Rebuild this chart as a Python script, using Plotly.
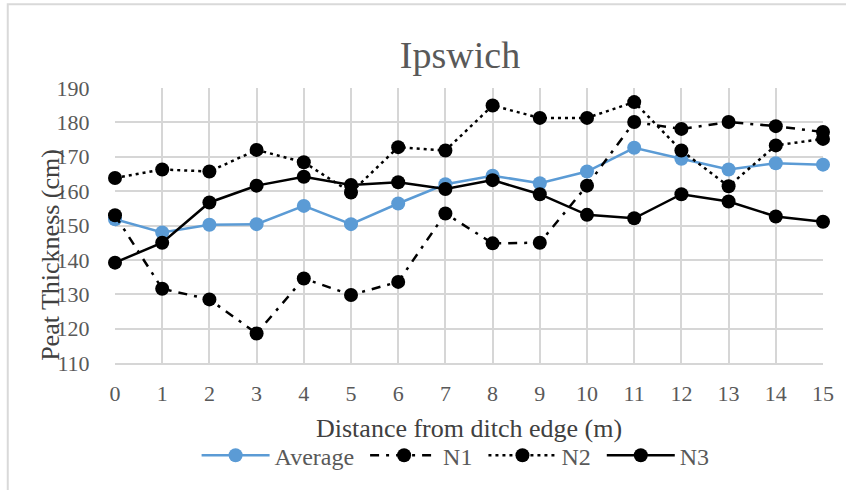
import plotly.graph_objects as go

distance = list(range(16))
average = [151.8, 148.0, 150.2, 150.4, 155.7, 150.4, 156.4, 162.0, 164.5, 162.3, 165.7, 172.6, 169.4, 166.3, 168.1, 167.7]
n1 = [153.0, 131.6, 128.5, 118.6, 134.6, 129.8, 133.6, 153.5, 144.8, 145.0, 161.6, 180.1, 178.1, 180.1, 178.9, 177.2]
n2 = [163.8, 166.3, 165.7, 172.0, 168.4, 159.6, 172.8, 171.8, 184.9, 181.3, 181.3, 185.9, 171.8, 161.4, 173.3, 175.2]
n3 = [139.2, 145.0, 156.7, 161.6, 164.2, 161.8, 162.6, 160.6, 163.2, 159.1, 153.1, 152.1, 159.1, 157.0, 152.6, 151.1]
names = ["Average", "N1", "N2", "N3"]

FONT = "Liberation Serif"
W, H = 846, 490
L, R, T, B = 115, 18, 88, 126
pw, ph = W - L - R, H - T - B

def px_x(x):
    return (x - L) / pw

def px_y(y):
    return (H - B - y) / ph

fig = go.Figure()
series = [
    (names[0], average, "#5B9BD5", "solid"),
    (names[1], n1, "#000000", "9px,7px,3px,7px"),
    (names[2], n2, "#000000", "3px,4px"),
    (names[3], n3, "#000000", "solid"),
]
for i, (name, vals, col, dash) in enumerate(series):
    label = name + ("\u00a0" if i < 3 else "")
    fig.add_trace(go.Scatter(
        x=distance, y=vals, name=label, mode="lines+markers",
        line=dict(color=col, width=2.5, dash=dash),
        marker=dict(color=col, size=14),
        cliponaxis=False,
    ))

fig.update_layout(
    width=W, height=H,
    margin=dict(l=L, r=R, t=T, b=B, pad=0),
    paper_bgcolor="white", plot_bgcolor="white",
    font=dict(family=FONT, color="#595959"),
    title=dict(text="Ipswich", x=460 / W, xref="container", xanchor="center",
               y=1 - 55 / H, yref="container", yanchor="middle",
               font=dict(size=38, color="#595959", family=FONT)),
    showlegend=True,
    legend=dict(orientation="h", x=px_x(458), xanchor="center",
                y=px_y(457), yanchor="middle",
                font=dict(size=24, color="#595959", family=FONT),
                itemwidth=68, bgcolor="rgba(0,0,0,0)"),
    xaxis=dict(range=[0, 15], tickmode="array", tickvals=distance,
               ticktext=[str(d) for d in distance],
               showgrid=True, gridcolor="#d6d6d6", gridwidth=1.5,
               showline=True, linecolor="#d6d6d6", linewidth=1.5,
               zeroline=False, ticks="outside", ticklen=10, tickcolor="rgba(0,0,0,0)",
               tickfont=dict(size=22, color="#595959", family=FONT)),
    yaxis=dict(range=[110, 190], tickmode="array",
               tickvals=[110, 120, 130, 140, 150, 160, 170, 180, 190],
               showgrid=True, gridcolor="#d6d6d6", gridwidth=1.5,
               showline=False, zeroline=False,
               ticks="outside", ticklen=20, tickcolor="rgba(0,0,0,0)",
               tickfont=dict(size=22, color="#595959", family=FONT)),
)

fig.add_annotation(text="Distance from ditch edge (m)", xref="paper", yref="paper",
                   x=px_x(471), y=px_y(430), xanchor="center", yanchor="middle",
                   showarrow=False, font=dict(size=26, color="#404040", family=FONT))
fig.add_annotation(text="Peat Thickness (cm)", xref="paper", yref="paper",
                   x=px_x(50), y=px_y(255), xanchor="center", yanchor="middle",
                   textangle=-90, showarrow=False,
                   font=dict(size=26, color="#404040", family=FONT))

fig.add_shape(type="rect", xref="paper", yref="paper",
              x0=px_x(7), x1=px_x(900), y0=px_y(4), y1=px_y(560),
              line=dict(color="#d9d9d9", width=2), fillcolor="rgba(0,0,0,0)", layer="below")

fig.write_html("out.html")
